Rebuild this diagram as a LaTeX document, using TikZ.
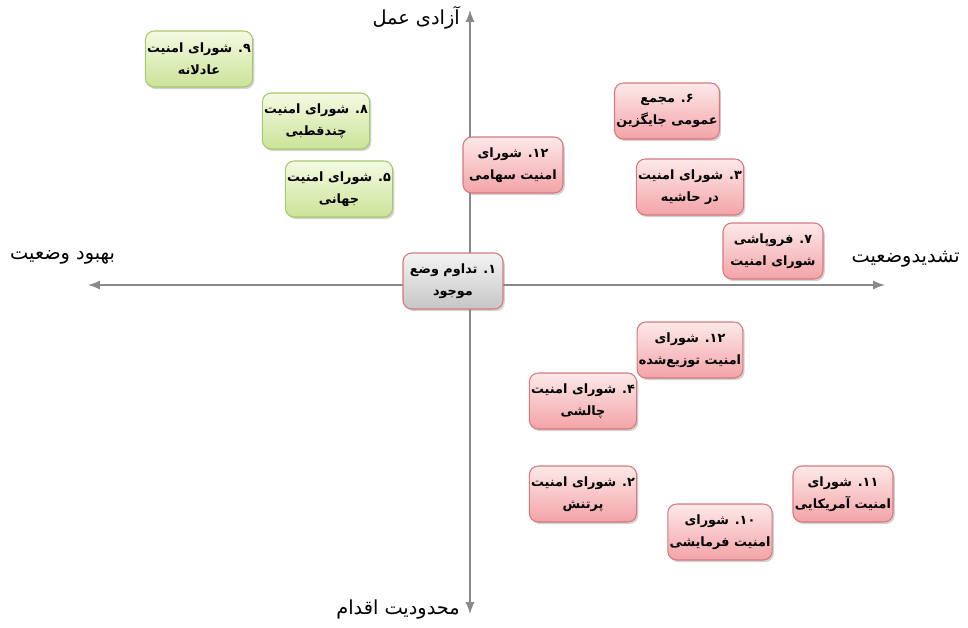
\documentclass[tikz,border=0pt]{standalone}
\usepackage{fontspec}
\usepackage{xcolor}
\usepackage{tikz}
\usetikzlibrary{shadows}
\TeXXeTstate=1
\newfontfamily\arabicfont[Script=Arabic]{DejaVu Sans}
\newcommand\rl[1]{\beginR #1\endR}

\definecolor{pinkTop}{HTML}{FDE9E9}
\definecolor{pinkBot}{HTML}{F3A3A7}
\definecolor{pinkLine}{HTML}{D7787D}
\definecolor{greenTop}{HTML}{F4FAE3}
\definecolor{greenBot}{HTML}{CBE398}
\definecolor{greenLine}{HTML}{A8C66C}
\definecolor{grayTop}{HTML}{F4F4F4}
\definecolor{grayBot}{HTML}{C6C6C6}
\definecolor{axisGray}{HTML}{8A8A8A}

\begin{document}
\begin{tikzpicture}[x=0.02cm, y=-0.02cm,
    box/.style={rounded corners=5pt, draw, line width=0.6pt, align=center,
      minimum width=2cm, minimum height=1.12cm, inner sep=1pt,
      font=\arabicfont\bfseries\fontsize{7.3}{12.5}\selectfont,
      drop shadow={shadow xshift=1pt, shadow yshift=-1.2pt, opacity=0.35}},
    redbox/.style={box, draw=pinkLine, top color=pinkTop, bottom color=pinkBot},
    greenbox/.style={box, draw=greenLine, top color=greenTop, bottom color=greenBot},
    graybox/.style={box, draw=pinkLine, top color=grayTop, bottom color=grayBot},
    axislabel/.style={font=\arabicfont\fontsize{11}{13}\selectfont}]
    \useasboundingbox (0,0) rectangle (968,627);

    % axes
    \coordinate (top) at (470,10);
    \coordinate (bottom) at (470,614);
    \coordinate (left) at (88,285);
    \coordinate (right) at (885,285);
    \draw[axisGray, line width=1.3pt, <->, >=latex] (bottom) -- (top);
    \draw[axisGray, line width=1.3pt, <->, >=latex] (left) -- (right);

    \node[axislabel, anchor=east] (freedom) at (466,18) {\rl{آزادی عمل}};
    \node[axislabel, anchor=east] (limit) at (466,610) {\rl{محدودیت اقدام}};
    \node[axislabel, anchor=west] (better) at (4,257) {\rl{بهبود وضعیت}};
    \node[axislabel, anchor=east] (worse) at (966,259) {\rl{تشدیدوضعیت}};

    % scenarios
    \node[greenbox] (s9) at (199,59) {\rl{۹. شورای امنیت}\\\rl{عادلانه}};
    \node[greenbox] (s8) at (316,121) {\rl{۸. شورای امنیت}\\\rl{چندقطبی}};
    \node[greenbox] (s5) at (339,189) {\rl{۵. شورای امنیت}\\\rl{جهانی}};

    \node[redbox] (s12a) at (513,165) {\rl{۱۲. شورای}\\\rl{امنیت سهامی}};
    \node[redbox] (s6) at (667,111) {\rl{۶. مجمع}\\\rl{عمومی جایگزین}};
    \node[redbox] (s3) at (690,187) {\rl{۳. شورای امنیت}\\\rl{در حاشیه}};
    \node[redbox] (s7) at (773,251) {\rl{۷. فروپاشی}\\\rl{شورای امنیت}};

    \node[graybox] (s1) at (453,281) {\rl{۱. تداوم وضع}\\\rl{موجود}};

    \node[redbox] (s12b) at (690,350) {\rl{۱۲. شورای}\\\rl{امنیت توزیع‌شده}};
    \node[redbox] (s4) at (583,401) {\rl{۴. شورای امنیت}\\\rl{چالشی}};
    \node[redbox] (s2) at (583,494) {\rl{۲. شورای امنیت}\\\rl{پرتنش}};
    \node[redbox] (s11) at (843,494) {\rl{۱۱. شورای}\\\rl{امنیت آمریکایی}};
    \node[redbox] (s10) at (720,532) {\rl{۱۰. شورای}\\\rl{امنیت فرمایشی}};
\end{tikzpicture}
\end{document}
